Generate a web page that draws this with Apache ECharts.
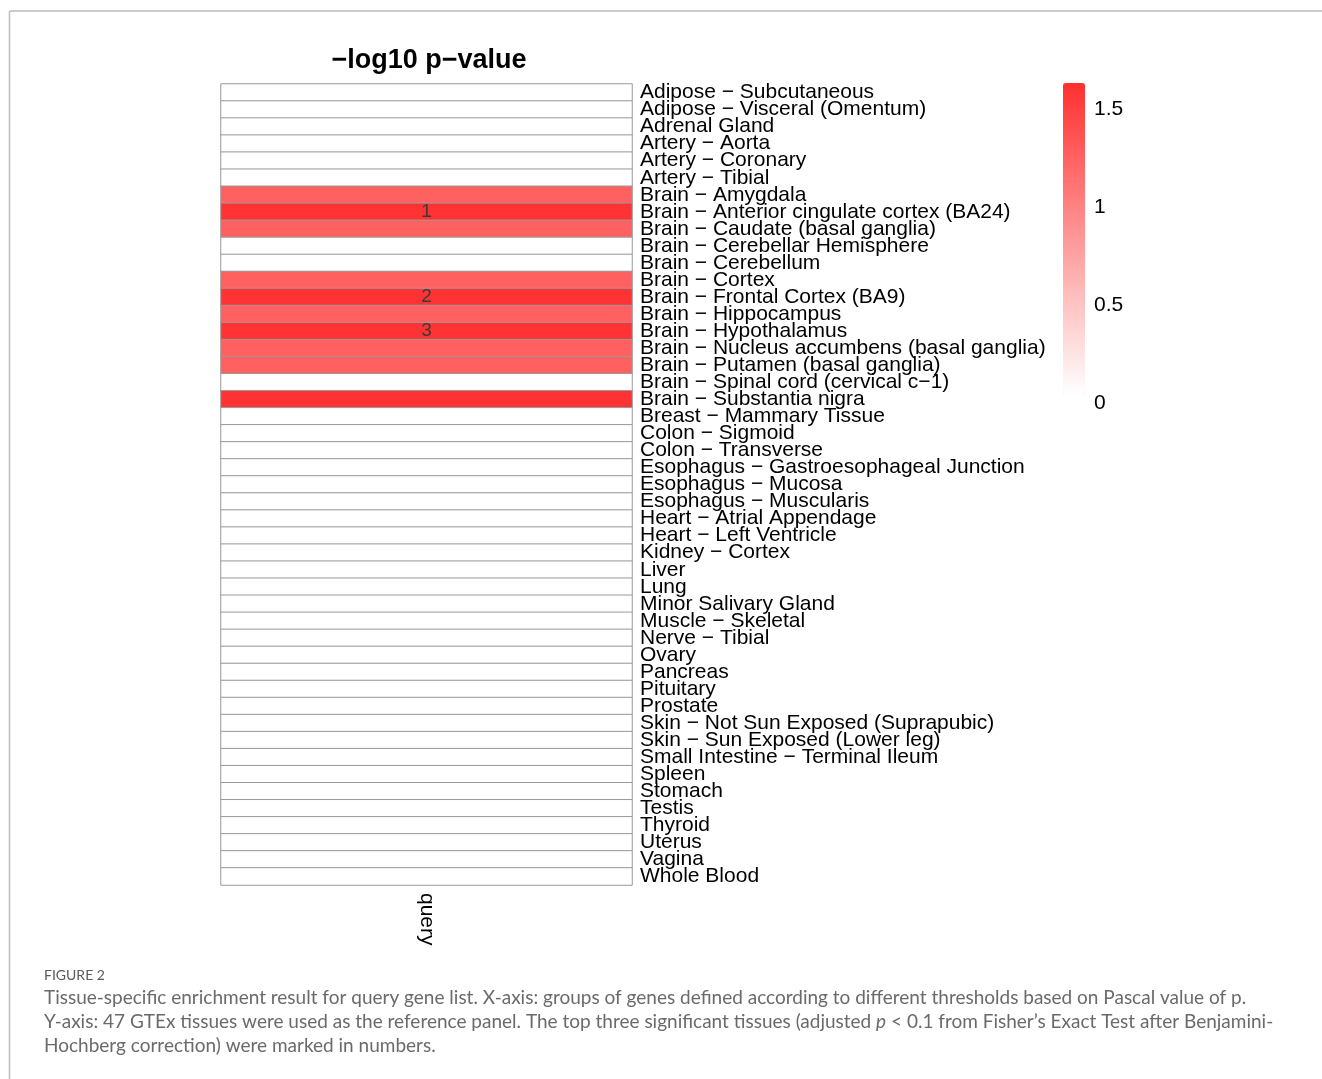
<!DOCTYPE html>
<html>
<head>
<meta charset="utf-8">
<title>Tissue-specific enrichment</title>
<script src="https://cdn.jsdelivr.net/npm/echarts@6/dist/echarts.min.js"></script>
<style>
  html, body { margin: 0; padding: 0; background: #ffffff; }
  #chart { width: 1322px; height: 1079px; }
</style>
</head>
<body>
<div id="chart"></div>
<script>
// GTEx tissues (rows of the heatmap, top to bottom)
const tissues = [
  'Adipose − Subcutaneous',
  'Adipose − Visceral (Omentum)',
  'Adrenal Gland',
  'Artery − Aorta',
  'Artery − Coronary',
  'Artery − Tibial',
  'Brain − Amygdala',
  'Brain − Anterior cingulate cortex (BA24)',
  'Brain − Caudate (basal ganglia)',
  'Brain − Cerebellar Hemisphere',
  'Brain − Cerebellum',
  'Brain − Cortex',
  'Brain − Frontal Cortex (BA9)',
  'Brain − Hippocampus',
  'Brain − Hypothalamus',
  'Brain − Nucleus accumbens (basal ganglia)',
  'Brain − Putamen (basal ganglia)',
  'Brain − Spinal cord (cervical c−1)',
  'Brain − Substantia nigra',
  'Breast − Mammary Tissue',
  'Colon − Sigmoid',
  'Colon − Transverse',
  'Esophagus − Gastroesophageal Junction',
  'Esophagus − Mucosa',
  'Esophagus − Muscularis',
  'Heart − Atrial Appendage',
  'Heart − Left Ventricle',
  'Kidney − Cortex',
  'Liver',
  'Lung',
  'Minor Salivary Gland',
  'Muscle − Skeletal',
  'Nerve − Tibial',
  'Ovary',
  'Pancreas',
  'Pituitary',
  'Prostate',
  'Skin − Not Sun Exposed (Suprapubic)',
  'Skin − Sun Exposed (Lower leg)',
  'Small Intestine − Terminal Ileum',
  'Spleen',
  'Stomach',
  'Testis',
  'Thyroid',
  'Uterus',
  'Vagina',
  'Whole Blood'
];

// gene groups (columns)
const groups = ['query'];

// -log10 p-value for the query gene list, one per tissue
const queryValues = [
  0, 0, 0, 0, 0, 0,
  1.25, 1.61, 1.25, 0, 0, 1.25, 1.61, 1.25, 1.61, 1.25, 1.25, 0, 1.61,
  0, 0, 0, 0, 0, 0, 0, 0, 0, 0, 0, 0, 0, 0, 0, 0, 0, 0, 0, 0, 0, 0, 0, 0, 0, 0, 0, 0
];

// rank of the top three significant tissues (empty = not marked)
const queryRanks = [
  '', '', '', '', '', '',
  '', '1', '', '', '', '', '2', '', '3', '', '', '', '',
  '', '', '', '', '', '', '', '', '', '', '', '', '', '', '', '', '', '', '', '', '', '', '', '', '', '', '', ''
];

// colour scale range and tick labels
const scaleMin = 0;
const scaleMax = 1.633;
const scaleTicks = [0, 0.5, 1, 1.5];

const cells = queryValues.map((v, i) => [0, i, v]);

const captionLines = [
  'Tissue-specific enrichment result for query gene list. X-axis: groups of genes defined according to different thresholds based on Pascal value of p.',
  'Y-axis: 47 GTEx tissues were used as the reference panel. The top three significant tissues (adjusted {i|p} < 0.1 from Fisher’s Exact Test after Benjamini-',
  'Hochberg correction) were marked in numbers.'
];

const chart = echarts.init(document.getElementById('chart'), null, { renderer: 'canvas' });

const labelFont = 'Arial, "Liberation Sans", sans-serif';
const captionFont = 'Lato, sans-serif';

chart.setOption({
  backgroundColor: '#ffffff',
  animation: false,
  title: {
    text: '−log10 p−value',
    left: 424,
    top: 42,
    textAlign: 'center',
    textStyle: { fontFamily: labelFont, fontSize: 27, fontWeight: 'bold', color: '#000' }
  },
  grid: [
    { left: 221, top: 84, width: 411, height: 801 },
    { left: 1063, top: 83, width: 22, height: 320 }
  ],
  xAxis: [
    {
      gridIndex: 0,
      type: 'category',
      data: groups,
      position: 'bottom',
      axisLine: { show: false },
      axisTick: { show: false },
      splitLine: { show: false },
      axisLabel: {
        rotate: -90,
        margin: 8,
        fontFamily: labelFont,
        fontSize: 21,
        color: '#000'
      }
    },
    { gridIndex: 1, type: 'value', show: false }
  ],
  yAxis: [
    {
      gridIndex: 0,
      type: 'category',
      data: tissues,
      inverse: true,
      position: 'right',
      axisLine: { show: false },
      axisTick: { show: false },
      splitLine: { show: false },
      axisLabel: {
        margin: 8,
        padding: [4, 0, 0, 0],
        fontFamily: labelFont,
        fontSize: 21,
        color: '#000',
        interval: 0
      }
    },
    {
      gridIndex: 1,
      type: 'value',
      min: scaleMin,
      max: scaleMax,
      interval: 0.5,
      position: 'right',
      axisLine: { show: false },
      axisTick: { show: false },
      splitLine: { show: false },
      axisLabel: {
        margin: 9,
        fontFamily: labelFont,
        fontSize: 21,
        color: '#000',
        customValues: scaleTicks
      }
    }
  ],
  visualMap: {
    type: 'continuous',
    seriesIndex: 0,
    dimension: 2,
    min: scaleMin,
    max: scaleMax,
    calculable: false,
    realtime: false,
    left: 1063,
    top: 83,
    itemWidth: 22,
    itemHeight: 312,
    padding: 0,
    text: null,
    showLabel: false,
    inRange: { color: ['#ffffff', '#ff3030'] }
  },
  series: [
    {
      type: 'heatmap',
      xAxisIndex: 0,
      yAxisIndex: 0,
      data: cells,
      itemStyle: { borderColor: '#999999', borderWidth: 1 },
      label: {
        show: true,
        formatter: p => queryRanks[p.dataIndex],
        fontFamily: labelFont,
        fontSize: 19,
        color: '#3a3a3a'
      },
      emphasis: { disabled: true }
    }
  ],
  graphic: [
    {
      type: 'line',
      shape: { x1: 9.5, y1: 11, x2: 1322, y2: 11 },
      style: { stroke: '#bdbdbd', lineWidth: 1.5 }
    },
    {
      type: 'line',
      shape: { x1: 9.5, y1: 11, x2: 9.5, y2: 1079 },
      style: { stroke: '#bdbdbd', lineWidth: 1.5 }
    },
    {
      type: 'text',
      left: 44,
      top: 968,
      style: { text: 'FIGURE 2', font: '14px ' + captionFont, fill: '#5a5a5a' }
    },
    ...captionLines.map((line, i) => ({
      type: 'text',
      left: 44,
      top: 988 + i * 24,
      style: {
        text: line,
        font: '19px ' + captionFont,
        fill: '#6a6a6a',
        rich: { i: { fontStyle: 'italic', fontFamily: captionFont, fontSize: 19, fill: '#6a6a6a' } }
      }
    }))
  ]
});
</script>
</body>
</html>
